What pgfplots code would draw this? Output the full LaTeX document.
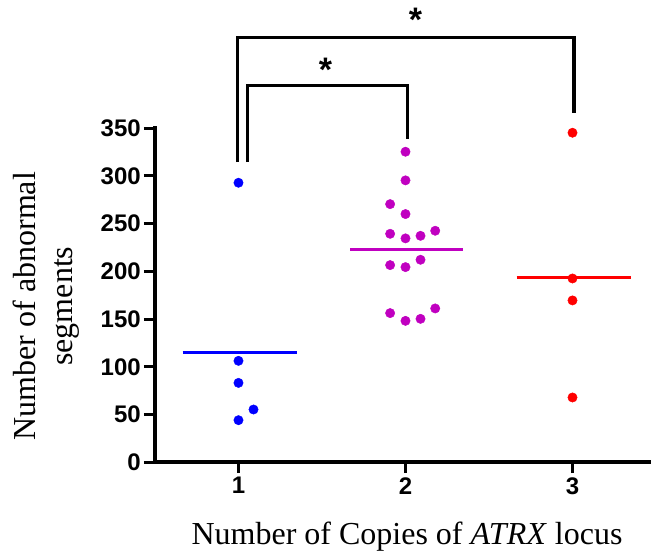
\documentclass[border=0pt]{standalone}
\usepackage{fontspec}
\setmainfont{Liberation Serif}
\setsansfont{Liberation Sans}
\usepackage{pgfplots}
\pgfplotsset{compat=1.18}
\definecolor{gpblue}{RGB}{0,0,255}
\definecolor{gpmag}{RGB}{192,0,192}
\definecolor{gpred}{RGB}{255,0,0}
\begin{document}
\begin{tikzpicture}
\begin{axis}[
  scale only axis,
  width=496pt, height=334pt,
  xmin=0.5, xmax=3.47, ymin=0, ymax=350,
  axis lines=left,
  axis line style={-, line width=3.6pt, line cap=rect},
  xtick={1,2,3}, ytick={0,50,...,350},
  tick align=outside, major tick length=11pt,
  tick style={line width=3pt, black},
  ticklabel style={font=\sffamily\bfseries\fontsize{24}{26}\selectfont},
  yticklabel style={inner sep=3pt},
  xticklabel style={inner sep=4pt},
  /pgf/number format/assume math mode=true,
  clip=false,
  xlabel={Number of Copies of \textit{ATRX} locus},
  xlabel style={font=\fontsize{32}{37}\selectfont, at={(axis cs:2.009,-86)}, anchor=base},
  ylabel={Number of abnormal\\segments},
  ylabel style={font=\fontsize{32}{37}\selectfont, align=center, at={(axis cs:-0.153,163.5)}, anchor=center},
  mark size=4.7pt,
]
% group 1
\addplot[only marks, mark=*, color=gpblue, mark options={draw=gpblue, fill=gpblue}]
  coordinates {(1,292.8) (1,106.2) (1,83.1) (1.09,55.2) (1,44.0)};
\addplot[gpblue, line width=3pt, mark=none] coordinates {(0.666,115.3) (1.348,115.3)};
% group 2
\addplot[only marks, mark=*, color=gpmag, mark options={draw=gpmag, fill=gpmag}]
  coordinates {(2,325.3) (2,295.3) (1.908,270.4) (2,260.0) (1.908,239.3) (2,234.5)
  (2.09,237.2) (2.178,242.5) (1.908,206.5) (2,204.4) (2.09,212.1)
  (1.908,156.2) (2,148.1) (2.09,150.2) (2.178,161.1)};
\addplot[gpmag, line width=3pt, mark=none] coordinates {(1.668,223.0) (2.346,223.0)};
% group 3
\addplot[only marks, mark=*, color=gpred, mark options={draw=gpred, fill=gpred}]
  coordinates {(3,345.2) (3,192.5) (3,169.5) (3,67.8)};
\addplot[gpred, line width=3pt, mark=none] coordinates {(2.666,193.2) (3.349,193.2)};
% significance brackets
\addplot[black, line width=3.2pt, sharp plot, line join=miter, mark=none]
  coordinates {(0.995,314.5) (0.995,444.8) (3.009,444.8) (3.009,365.5)};
\addplot[black, line width=3.2pt, sharp plot, line join=miter, mark=none]
  coordinates {(1.055,314.5) (1.055,394.5) (2.011,394.5) (2.011,338.3)};
\node[font=\sffamily\bfseries\fontsize{34}{36}\selectfont, anchor=base, inner sep=0pt] at (axis cs:2.06,451.6) {*};
\node[font=\sffamily\bfseries\fontsize{34}{36}\selectfont, anchor=base, inner sep=0pt] at (axis cs:1.521,399.2) {*};
\coordinate (bbl) at (axis cs:-0.428,-98.5);
\coordinate (btr) at (axis cs:3.47,484.3);
\end{axis}
\pgfresetboundingbox
\path (bbl) rectangle (btr);
\end{tikzpicture}
\end{document}
